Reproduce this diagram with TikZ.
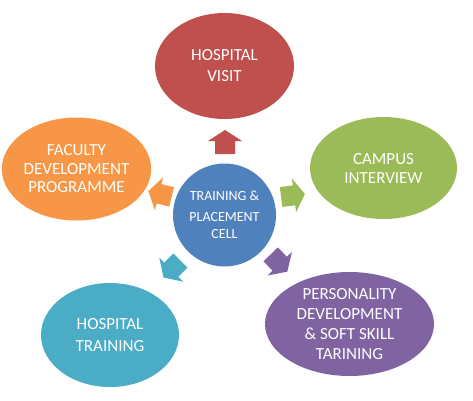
\documentclass[tikz,border=0pt]{standalone}
\usepackage{fontspec}
\setmainfont{Carlito}
\usetikzlibrary{shapes.geometric}
\definecolor{cred}{HTML}{C0504D}
\definecolor{corange}{HTML}{F79646}
\definecolor{cgreen}{HTML}{9BBB59}
\definecolor{cteal}{HTML}{4BACC6}
\definecolor{cpurple}{HTML}{8064A2}
\definecolor{cblue}{HTML}{4F81BD}
\begin{document}
\begin{tikzpicture}[x=1pt,y=1pt,
  bubble/.style={ellipse, draw=none, inner sep=0pt, text=white, align=center,
    font=\fontsize{17}{20.5}\selectfont},
  hub/.style={circle, draw=none, inner sep=0pt, text=white, align=center,
    font=\fontsize{14}{17}\selectfont},
  barrow/.pic={\fill[pic actions] (-12,-10) -- (1,-10) -- (1,-17) -- (12,0) -- (1,17) -- (1,10) -- (-12,10) -- cycle;}
]
\useasboundingbox (0,0) rectangle (473,400);
\fill[white] (0,0) rectangle (473,400);

\node[hub, fill=cblue, minimum size=103pt] (hub) at (224.5,185)
  {TRAINING \&\\[4pt] PLACEMENT\\ CELL};

\node[bubble, fill=cred, minimum width=139pt, minimum height=106pt,
  font=\fontsize{17}{21}\selectfont] (visit) at (224.5,334) {HOSPITAL\\ VISIT};
\node[bubble, fill=corange, minimum width=141pt, minimum height=103pt,
  font=\fontsize{17}{18.5}\selectfont] (faculty) at (76.5,231) {FACULTY\\ DEVELOPMENT\\ PROGRAMME};
\node[bubble, fill=cgreen, minimum width=147pt, minimum height=102pt,
  font=\fontsize{17}{19}\selectfont] (campus) at (383.5,232) {CAMPUS\\ INTERVIEW};
\node[bubble, fill=cteal, minimum width=138pt, minimum height=104pt,
  font=\fontsize{17}{22}\selectfont] (training) at (110,65) {HOSPITAL\\ TRAINING};
\node[bubble, fill=cpurple, minimum width=169pt, minimum height=104pt,
  font=\fontsize{17}{20}\selectfont] (personality) at (349.5,76)
  {PERSONALITY\\ DEVELOPMENT\\ \& SOFT SKILL\\ TARINING};

\pic[rotate=90, fill=cred] (arrvisit) at (225,258) {barrow};
\pic[rotate=7, fill=cgreen] (arrcampus) at (293,204.5) {barrow};
\pic[rotate=-46, fill=cpurple] (arrpers) at (279,137) {barrow};
\pic[rotate=-135, fill=cteal] (arrtrain) at (172,131) {barrow};
\pic[rotate=166, fill=corange] (arrfac) at (160,206) {barrow};
\end{tikzpicture}
\end{document}
